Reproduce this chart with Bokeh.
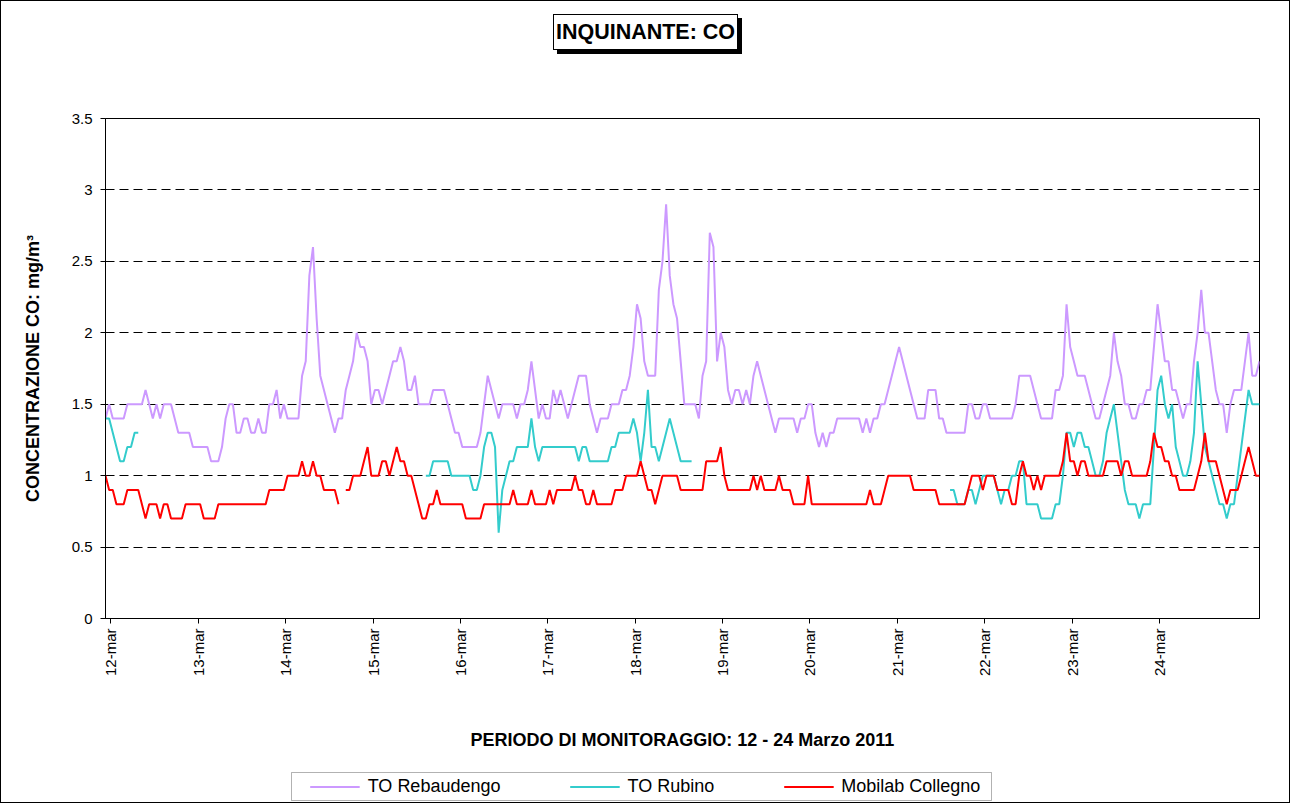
import numpy as np
from bokeh.plotting import figure
from bokeh.layouts import column
from bokeh.models import (Range1d, FixedTicker, Legend, LegendItem, Div,
                          NumeralTickFormatter, BoxAnnotation)
from bokeh.embed import file_html
from bokeh.resources import INLINE

# ---------------- data (hourly, index 0 = 12-mar start) ----------------
day_labels = ["12-mar", "13-mar", "14-mar", "15-mar", "16-mar", "17-mar", "18-mar",
              "19-mar", "20-mar", "21-mar", "22-mar", "23-mar", "24-mar"]
y_ticks = [0, 0.5, 1, 1.5, 2, 2.5, 3, 3.5]

rebaudengo = [
    1.4, 1.5, 1.4, 1.4, 1.4, 1.4, 1.5, 1.5, 1.5, 1.5,
    1.5, 1.6, 1.5, 1.4, 1.5, 1.4, 1.5, 1.5, 1.5, 1.4,
    1.3, 1.3, 1.3, 1.3, 1.2, 1.2, 1.2, 1.2, 1.2, 1.1,
    1.1, 1.1, 1.2, 1.4, 1.5, 1.5, 1.3, 1.3, 1.4, 1.4,
    1.3, 1.3, 1.4, 1.3, 1.3, 1.5, 1.5, 1.6, 1.4, 1.5,
    1.4, 1.4, 1.4, 1.4, 1.7, 1.8, 2.4, 2.6, 2.1, 1.7,
    1.6, 1.5, 1.4, 1.3, 1.4, 1.4, 1.6, 1.7, 1.8, 2.0,
    1.9, 1.9, 1.8, 1.5, 1.6, 1.6, 1.5, 1.6, 1.7, 1.8,
    1.8, 1.9, 1.8, 1.6, 1.6, 1.7, 1.5, 1.5, 1.5, 1.5,
    1.6, 1.6, 1.6, 1.6, 1.5, 1.4, 1.3, 1.3, 1.2, 1.2,
    1.2, 1.2, 1.2, 1.3, 1.5, 1.7, 1.6, 1.5, 1.4, 1.5,
    1.5, 1.5, 1.5, 1.4, 1.5, 1.5, 1.6, 1.8, 1.6, 1.4,
    1.5, 1.4, 1.4, 1.6, 1.5, 1.6, 1.5, 1.4, 1.5, 1.6,
    1.7, 1.7, 1.7, 1.5, 1.4, 1.3, 1.4, 1.4, 1.4, 1.5,
    1.5, 1.5, 1.6, 1.6, 1.7, 1.9, 2.2, 2.1, 1.8, 1.7,
    1.7, 1.7, 2.3, 2.5, 2.9, 2.4, 2.2, 2.1, 1.8, 1.5,
    1.5, 1.5, 1.5, 1.4, 1.7, 1.8, 2.7, 2.6, 1.8, 2.0,
    1.9, 1.6, 1.5, 1.6, 1.6, 1.5, 1.6, 1.5, 1.7, 1.8,
    1.7, 1.6, 1.5, 1.4, 1.3, 1.4, 1.4, 1.4, 1.4, 1.4,
    1.3, 1.4, 1.4, 1.5, 1.5, 1.3, 1.2, 1.3, 1.2, 1.3,
    1.3, 1.4, 1.4, 1.4, 1.4, 1.4, 1.4, 1.4, 1.3, 1.4,
    1.3, 1.4, 1.4, 1.5, 1.5, 1.6, 1.7, 1.8, 1.9, 1.8,
    1.7, 1.6, 1.5, 1.4, 1.4, 1.4, 1.6, 1.6, 1.6, 1.4,
    1.4, 1.3, 1.3, 1.3, 1.3, 1.3, 1.3, 1.5, 1.5, 1.4,
    1.4, 1.5, 1.5, 1.4, 1.4, 1.4, 1.4, 1.4, 1.4, 1.4,
    1.5, 1.7, 1.7, 1.7, 1.7, 1.6, 1.5, 1.4, 1.4, 1.4,
    1.4, 1.6, 1.6, 1.7, 2.2, 1.9, 1.8, 1.7, 1.7, 1.7,
    1.6, 1.5, 1.4, 1.4, 1.5, 1.6, 1.7, 2.0, 1.8, 1.7,
    1.5, 1.5, 1.4, 1.4, 1.5, 1.5, 1.6, 1.6, 1.9, 2.2,
    2.0, 1.8, 1.8, 1.6, 1.6, 1.5, 1.4, 1.5, 1.5, 1.8,
    2.0, 2.3, 2.0, 2.0, 1.8, 1.6, 1.5, 1.5, 1.3, 1.5,
    1.6, 1.6, 1.6, 1.8, 2.0, 1.7, 1.7, 1.8,
]

# TO Rubino: three measured stretches (start hour + values)
rubino_a_start = 0
rubino_a = [1.4, 1.4, 1.3, 1.2, 1.1, 1.1, 1.2, 1.2, 1.3, 1.3]
rubino_b_start = 88
rubino_b = [
    1.0, 1.0, 1.1, 1.1, 1.1, 1.1, 1.1, 1.0, 1.0, 1.0, 1.0, 1.0,
    1.0, 0.9, 0.9, 1.0, 1.2, 1.3, 1.3, 1.2, 0.6, 0.9,
    1.0, 1.1, 1.1, 1.2, 1.2, 1.2, 1.2, 1.4, 1.2, 1.1,
    1.2, 1.2, 1.2, 1.2, 1.2, 1.2, 1.2, 1.2, 1.2, 1.2,
    1.1, 1.2, 1.2, 1.1, 1.1, 1.1, 1.1, 1.1, 1.1, 1.2,
    1.2, 1.3, 1.3, 1.3, 1.3, 1.4, 1.3, 1.1, 1.3, 1.6,
    1.2, 1.2, 1.1, 1.2, 1.3, 1.4, 1.3, 1.2, 1.1, 1.1,
    1.1, 1.1,
]
rubino_c_start = 232
rubino_c = [
    0.9, 0.9, 0.8, 0.8, 0.8, 0.9, 0.9, 0.8,
    0.9, 1.0, 1.0, 1.0, 1.0, 0.9, 0.8, 0.9, 0.9, 1.0,
    1.0, 1.1, 1.1, 0.8, 0.8, 0.8, 0.8, 0.7, 0.7, 0.7,
    0.7, 0.8, 0.8, 1.0, 1.3, 1.3, 1.2, 1.3, 1.3, 1.2,
    1.2, 1.1, 1.0, 1.0, 1.1, 1.3, 1.4, 1.5, 1.3, 1.1,
    0.9, 0.8, 0.8, 0.8, 0.7, 0.8, 0.8, 0.8, 1.2, 1.6,
    1.7, 1.5, 1.4, 1.5, 1.2, 1.1, 1.0, 1.0, 1.1, 1.3,
    1.8, 1.5, 1.2, 1.1, 1.0, 0.9, 0.8, 0.8, 0.7, 0.8,
    0.8, 1.0, 1.2, 1.4, 1.6, 1.5, 1.5, 1.5,
]

mobilab = [
    1.0, 0.9, 0.9, 0.8, 0.8, 0.8, 0.9, 0.9, 0.9, 0.9,
    0.8, 0.7, 0.8, 0.8, 0.8, 0.7, 0.8, 0.8, 0.7, 0.7,
    0.7, 0.7, 0.8, 0.8, 0.8, 0.8, 0.8, 0.7, 0.7, 0.7,
    0.7, 0.8, 0.8, 0.8, 0.8, 0.8, 0.8, 0.8, 0.8, 0.8,
    0.8, 0.8, 0.8, 0.8, 0.8, 0.9, 0.9, 0.9, 0.9, 0.9,
    1.0, 1.0, 1.0, 1.0, 1.1, 1.0, 1.0, 1.1, 1.0, 1.0,
    0.9, 0.9, 0.9, 0.9, 0.8, None, 0.9, 0.9, 1.0, 1.0,
    1.0, 1.1, 1.2, 1.0, 1.0, 1.0, 1.1, 1.1, 1.0, 1.1,
    1.2, 1.1, 1.1, 1.0, 1.0, 0.9, 0.8, 0.7, 0.7, 0.8,
    0.8, 0.9, 0.8, 0.8, 0.8, 0.8, 0.8, 0.8, 0.8, 0.7,
    0.7, 0.7, 0.7, 0.7, 0.8, 0.8, 0.8, 0.8, 0.8, 0.8,
    0.8, 0.8, 0.9, 0.8, 0.8, 0.8, 0.8, 0.9, 0.8, 0.8,
    0.8, 0.8, 0.9, 0.8, 0.9, 0.9, 0.9, 0.9, 0.9, 1.0,
    0.9, 0.9, 0.8, 0.8, 0.9, 0.8, 0.8, 0.8, 0.8, 0.8,
    0.9, 0.9, 0.9, 1.0, 1.0, 1.0, 1.0, 1.1, 1.0, 0.9,
    0.9, 0.8, 0.9, 1.0, 1.0, 1.0, 1.0, 1.0, 0.9, 0.9,
    0.9, 0.9, 0.9, 0.9, 0.9, 1.1, 1.1, 1.1, 1.1, 1.2,
    1.0, 0.9, 0.9, 0.9, 0.9, 0.9, 0.9, 0.9, 1.0, 0.9,
    1.0, 0.9, 0.9, 0.9, 0.9, 1.0, 0.9, 0.9, 0.9, 0.8,
    0.8, 0.8, 0.8, 1.0, 0.8, 0.8, 0.8, 0.8, 0.8, 0.8,
    0.8, 0.8, 0.8, 0.8, 0.8, 0.8, 0.8, 0.8, 0.8, 0.8,
    0.9, 0.8, 0.8, 0.8, 0.9, 1.0, 1.0, 1.0, 1.0, 1.0,
    1.0, 1.0, 0.9, 0.9, 0.9, 0.9, 0.9, 0.9, 0.9, 0.8,
    0.8, 0.8, 0.8, 0.8, 0.8, 0.8, 0.8, 0.9, 1.0, 1.0,
    1.0, 0.9, 1.0, 1.0, 1.0, 0.9, 0.9, 0.9, 0.9, 0.8,
    0.8, 1.0, 1.1, 1.0, 1.0, 0.9, 1.0, 0.9, 1.0, 1.0,
    1.0, 1.0, 1.0, 1.1, 1.3, 1.1, 1.1, 1.0, 1.1, 1.1,
    1.0, 1.0, 1.0, 1.0, 1.0, 1.1, 1.1, 1.1, 1.1, 1.0,
    1.1, 1.1, 1.0, 1.0, 1.0, 1.0, 1.0, 1.1, 1.3, 1.2,
    1.2, 1.1, 1.1, 1.0, 1.0, 0.9, 0.9, 0.9, 0.9, 0.9,
    1.0, 1.1, 1.3, 1.1, 1.1, 1.1, 1.0, 0.9, 0.8, 0.9,
    0.9, 0.9, 1.0, 1.1, 1.2, 1.1, 1.0, 1.0,
]

series_names = ["TO Rebaudengo", "TO Rubino", "Mobilab Collegno"]
series_colors = ["#CC99FF", "#33CCCC", "#FF0000"]

# ---------------- build series ----------------
n = len(rebaudengo)
hours = np.arange(n)
reb = np.array(rebaudengo, dtype=float)
mob = np.array([np.nan if v is None else v for v in mobilab], dtype=float)
rub = np.full(n, np.nan)
for start, vals in ((rubino_a_start, rubino_a), (rubino_b_start, rubino_b),
                    (rubino_c_start, rubino_c)):
    rub[start:start + len(vals)] = vals
series_values = [reb, rub, mob]

FONT = "Liberation Sans"
W = 1288

# ---------------- title box (HTML, with drop shadow) ----------------
title_html = (
    '<div style="position:relative;width:1288px;height:100px;">'
    '<div style="position:absolute;left:552px;top:13px;width:185px;height:36px;'
    'border:1px solid #000;box-shadow:4px 4px 0 #000;background:#fff;'
    "font-family:'Liberation Sans';font-weight:bold;font-size:21.5px;color:#000;"
    'display:flex;align-items:center;justify-content:center;">'
    'INQUINANTE: CO</div></div>'
)
title_div = Div(text=title_html, width=W, height=100, margin=0)

# ---------------- main figure ----------------
p = figure(frame_width=1154, frame_height=500, output_backend="svg",
           toolbar_location=None,
           x_range=Range1d(0, n - 1), y_range=Range1d(0, 3.5),
           min_border_left=104, min_border_right=30, min_border_top=17,
           min_border_bottom=152, margin=0)
p.background_fill_color = "white"
p.border_fill_color = "white"
p.outline_line_color = "black"
p.outline_line_width = 1

for vals, col in zip(series_values, series_colors):
    p.line(hours, vals, line_color=col, line_width=2)

day_ticks = [24 * k + 1.5 for k in range(len(day_labels))]
p.xaxis.ticker = FixedTicker(ticks=day_ticks)
p.xaxis.major_label_overrides = {t: lab for t, lab in zip(day_ticks, day_labels)}
p.xaxis.major_label_orientation = np.pi / 2
p.xaxis.axis_label = "PERIODO DI MONITORAGGIO: 12 - 24 Marzo 2011"
p.yaxis.ticker = FixedTicker(ticks=y_ticks)
p.yaxis.formatter = NumeralTickFormatter(format="0.[0]")
p.yaxis.axis_label = "CONCENTRAZIONE CO: mg/m\u00b3"

for ax in (p.xaxis, p.yaxis):
    ax.axis_line_color = "black"
    ax.major_tick_line_color = "black"
    ax.major_tick_out = 5
    ax.major_tick_in = 0
    ax.minor_tick_line_color = None
    ax.major_label_text_font = FONT
    ax.major_label_text_font_size = "15px"
    ax.major_label_text_color = "black"
    ax.axis_label_text_font = FONT
    ax.axis_label_text_font_size = "18px"
    ax.axis_label_text_font_style = "bold"
    ax.axis_label_text_color = "black"
p.yaxis.major_label_standoff = 8
p.yaxis.axis_label_standoff = 26
p.xaxis.major_label_standoff = 5
p.xaxis.axis_label_standoff = 51

p.xgrid.grid_line_color = None
p.ygrid.ticker = FixedTicker(ticks=y_ticks)
p.ygrid.grid_line_color = "black"
p.ygrid.grid_line_dash = "9 5"
p.ygrid.grid_line_width = 1

# ---------------- legend strip (own small figure) ----------------
LH = 32
lg = figure(frame_width=W, frame_height=LH, output_backend="svg",
            toolbar_location=None,
            x_range=Range1d(0, W), y_range=Range1d(0, LH),
            x_axis_location=None, y_axis_location=None,
            min_border=0, min_border_left=0, min_border_right=0,
            min_border_top=0, min_border_bottom=0, margin=0)
lg.xgrid.grid_line_color = None
lg.ygrid.grid_line_color = None
lg.outline_line_color = None
lg.background_fill_color = "white"
lg.border_fill_color = "white"
lg.add_layout(BoxAnnotation(left=186, right=886, bottom=2, top=30,
                            fill_color="white", fill_alpha=1,
                            line_color="black", line_width=1))
# the same three series, kept hidden here: they only lend their style to the legend
proxies = [lg.line(hours, vals, line_color=col, line_width=2, visible=False)
           for vals, col in zip(series_values, series_colors)]
legend = Legend(items=[LegendItem(label=nm, renderers=[r])
                       for nm, r in zip(series_names, proxies)],
                orientation="horizontal", location="center",
                border_line_color=None, background_fill_alpha=0,
                glyph_width=50, glyph_height=16, label_standoff=8, spacing=69,
                padding=3, margin=0, label_text_font=FONT,
                label_text_font_size="18px", label_text_color="black")
lg.add_layout(legend)

layout = column(title_div, p, lg, styles={"border": "1px solid black"})
open("out.html", "w").write(file_html(layout, INLINE))
